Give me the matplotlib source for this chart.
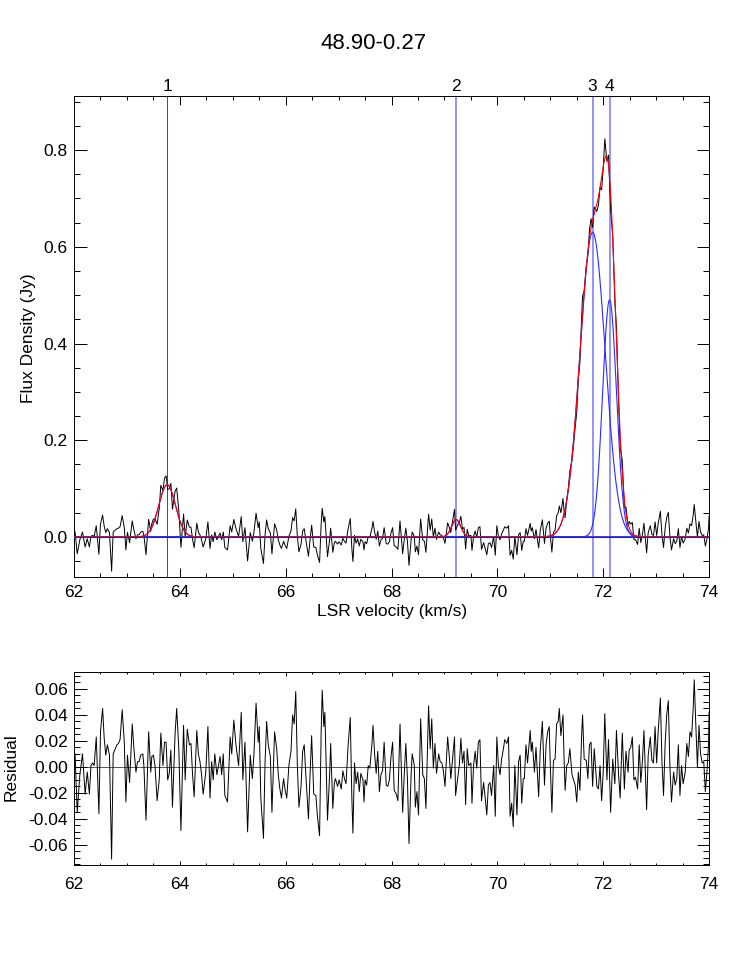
import numpy as np
import matplotlib
matplotlib.use("Agg")
import matplotlib.pyplot as plt
from matplotlib.ticker import MultipleLocator, FormatStrFormatter

plt.rcParams["font.family"] = ["Liberation Sans", "DejaVu Sans"]

# ── Datos ────────────────────────────────────────────────────────────────
SOURCE = "48.90-0.27"

# ajuste gaussiano (4 componentes)
comp_labels = ["1", "2", "3", "4"]
comp_center = [63.76, 69.22, 71.80, 72.12]   # km/s
comp_amp    = [0.108, 0.036, 0.630, 0.490]   # Jy
comp_fwhm   = [0.37, 0.20, 0.56, 0.31]       # km/s

vel = [
    # 62 - 64
    62.02, 62.06, 62.11, 62.16, 62.21, 62.25, 62.29, 62.32, 62.35, 62.38,
    62.42, 62.47, 62.50, 62.54, 62.57, 62.60, 62.63, 62.67, 62.71, 62.74,
    62.77, 62.81, 62.84, 62.87, 62.91, 62.95, 62.98, 63.01, 63.05, 63.10,
    63.13, 63.17, 63.20, 63.23, 63.26, 63.30, 63.32, 63.36, 63.41, 63.45,
    63.47, 63.50, 63.53, 63.57, 63.61, 63.64, 63.68, 63.71, 63.74, 63.77,
    63.80, 63.83, 63.86, 63.91, 63.94, 63.98, 64.02,
    # 64 - 66
    64.07, 64.10, 64.14, 64.18, 64.21, 64.24, 64.27, 64.32, 64.35, 64.38,
    64.41, 64.44, 64.49, 64.53, 64.57, 64.60, 64.63, 64.66, 64.70, 64.73,
    64.76, 64.79, 64.82, 64.85, 64.90, 64.95, 64.98, 65.02, 65.06, 65.11,
    65.16, 65.19, 65.23, 65.28, 65.33, 65.37, 65.40, 65.44, 65.48, 65.50,
    65.53, 65.58, 65.61, 65.64, 65.67, 65.71, 65.74, 65.79, 65.83, 65.86,
    65.89, 65.92, 65.96, 65.99, 66.02, 66.06,
    # 66 - 68
    66.10, 66.13, 66.16, 66.19, 66.22, 66.25, 66.29, 66.32, 66.35, 66.38,
    66.43, 66.46, 66.49, 66.53, 66.57, 66.60, 66.64, 66.67, 66.69, 66.72,
    66.74, 66.77, 66.79, 66.83, 66.85, 66.89, 66.92, 66.94, 66.98, 67.01,
    67.05, 67.08, 67.11, 67.14, 67.18, 67.22, 67.25, 67.27, 67.30, 67.33,
    67.36, 67.39, 67.42, 67.46, 67.48, 67.50, 67.53, 67.56, 67.59, 67.63,
    67.65, 67.68, 67.71, 67.74, 67.77, 67.80, 67.83, 67.86, 67.90, 67.93,
    67.96, 67.99, 68.02,
    # 68 - 70
    68.05, 68.09, 68.12, 68.16, 68.21, 68.24, 68.27, 68.30, 68.33, 68.37,
    68.39, 68.43, 68.45, 68.48, 68.51, 68.55, 68.59, 68.62, 68.65, 68.70,
    68.73, 68.76, 68.79, 68.82, 68.85, 68.89, 68.92, 68.95, 68.98, 69.01,
    69.06, 69.09, 69.12, 69.15, 69.19, 69.21, 69.25, 69.28, 69.31, 69.34,
    69.37, 69.40, 69.43, 69.46, 69.50, 69.52, 69.55, 69.58, 69.61, 69.64,
    69.67, 69.70, 69.74, 69.77, 69.80, 69.83, 69.86, 69.89, 69.93, 69.96,
    69.99, 70.02, 70.05,
    # 70 - 72
    70.08, 70.11, 70.14, 70.18, 70.21, 70.24, 70.27, 70.30, 70.33, 70.37,
    70.40, 70.43, 70.46, 70.49, 70.51, 70.54, 70.57, 70.62, 70.64, 70.66,
    70.70, 70.73, 70.78, 70.81, 70.85, 70.89, 70.92, 70.95, 70.98, 71.00,
    71.03, 71.06, 71.09, 71.12, 71.15, 71.17, 71.20, 71.24, 71.26, 71.28,
    71.31, 71.34, 71.37, 71.41, 71.44, 71.47, 71.50, 71.53, 71.56, 71.59,
    71.61, 71.64, 71.68, 71.71, 71.74, 71.77, 71.80, 71.83, 71.88, 71.91,
    71.94, 71.97, 72.00, 72.03,
    # 72 - 74
    72.07, 72.10, 72.14, 72.18, 72.22, 72.25, 72.29, 72.32, 72.36, 72.40,
    72.43, 72.47, 72.49, 72.52, 72.55, 72.58, 72.61, 72.65, 72.68, 72.71,
    72.74, 72.77, 72.82, 72.85, 72.89, 72.92, 72.95, 72.98, 73.01, 73.04,
    73.08, 73.11, 73.14, 73.17, 73.20, 73.23, 73.26, 73.29, 73.33, 73.36,
    73.39, 73.42, 73.45, 73.48, 73.51, 73.55, 73.58, 73.61, 73.64, 73.67,
    73.70, 73.72, 73.75, 73.78, 73.81, 73.84, 73.87, 73.90, 73.93, 73.96,
    73.99, 74.00,
]

resid = [
    # 62 - 64
    0.010, -0.035, -0.006, 0.010, -0.021, -0.004, -0.021, 0.001, 0.003, 0.001,
    0.023, -0.036, 0.027, 0.045, 0.022, 0.009, 0.017, 0.009, -0.071, 0.010,
    0.013, 0.017, 0.018, 0.021, 0.044, 0.019, -0.027, 0.009, -0.012, 0.033,
    0.015, -0.004, 0.004, 0.004, 0.009, 0.010, 0.001, -0.041, 0.027, -0.004,
    0.008, 0.009, 0.001, -0.026, -0.010, 0.026, 0.001, 0.019, 0.019, -0.010,
    -0.005, 0.013, -0.031, 0.026, 0.045, 0.014, -0.049,
    # 64 - 66
    0.032, -0.010, 0.029, 0.017, 0.018, -0.006, -0.023, 0.028, 0.010, 0.004,
    -0.006, -0.021, -0.004, 0.031, -0.024, 0.004, -0.010, 0.010, -0.006, 0.001,
    0.008, -0.006, 0.010, -0.022, -0.027, 0.023, 0.010, 0.036, 0.017, 0.001,
    0.042, -0.010, 0.019, -0.050, 0.009, -0.009, 0.010, 0.049, 0.019, 0.031,
    -0.024, -0.055, 0.004, 0.035, 0.017, 0.008, -0.035, 0.027, 0.014, -0.006,
    -0.017, -0.024, -0.009, -0.018, -0.024, 0.001,
    # 66 - 68
    0.012, 0.040, 0.033, 0.058, 0.001, -0.031, -0.015, 0.012, 0.017, -0.006,
    -0.040, -0.006, 0.024, -0.021, -0.022, -0.038, -0.053, 0.027, 0.059, 0.031,
    0.042, -0.006, -0.041, -0.006, 0.018, -0.032, -0.012, -0.009, -0.015, -0.010,
    -0.017, -0.003, -0.009, -0.013, 0.017, 0.038, -0.024, -0.051, 0.003, -0.013,
    -0.004, -0.019, -0.005, -0.010, -0.027, -0.010, -0.014, 0.001, -0.001, 0.018,
    0.032, 0.010, -0.005, 0.012, -0.019, -0.006, -0.003, 0.019, -0.014, -0.015,
    -0.010, 0.008, 0.019,
    # 68 - 70
    -0.018, -0.021, -0.026, 0.033, -0.035, -0.006, 0.018, -0.009, -0.059, -0.006,
    0.010, 0.001, -0.031, -0.019, -0.037, 0.037, -0.006, -0.009, -0.032, 0.047,
    0.014, 0.037, -0.001, 0.018, -0.005, 0.010, 0.004, 0.003, -0.003, -0.015,
    0.023, 0.009, -0.009, 0.005, 0.023, -0.022, -0.009, 0.001, 0.022, 0.003,
    0.012, -0.029, 0.014, 0.001, 0.003, -0.028, 0.001, 0.012, -0.001, 0.019,
    0.021, -0.026, -0.012, -0.024, -0.037, -0.014, -0.012, -0.022, 0.001, -0.038,
    0.023, 0.001, -0.006,
    # 70 - 72
    0.006, 0.013, 0.021, 0.018, 0.023, -0.038, -0.028, -0.046, 0.001, -0.037,
    0.004, 0.009, -0.028, -0.009, -0.009, 0.017, 0.003, 0.028, 0.012, 0.019,
    -0.004, 0.015, -0.023, 0.013, 0.035, -0.014, 0.017, 0.027, 0.031, 0.001,
    -0.035, 0.005, 0.006, 0.033, 0.035, 0.045, 0.024, 0.040, 0.006, -0.018,
    0.001, 0.003, 0.014, -0.006, -0.010, -0.014, -0.027, -0.004, -0.018, 0.022,
    0.040, 0.006, 0.005, -0.009, 0.017, 0.019, -0.015, 0.014, -0.015, -0.017,
    0.001, -0.026, -0.004, 0.041,
    # 72 - 74
    -0.010, 0.021, -0.035, 0.006, -0.013, 0.028, -0.006, -0.024, 0.026, -0.017,
    0.012, -0.004, 0.013, 0.015, 0.023, -0.010, -0.008, -0.017, 0.017, -0.012,
    0.004, 0.028, -0.033, 0.009, 0.023, 0.005, 0.003, 0.031, 0.003, 0.028,
    0.053, 0.004, -0.022, 0.018, 0.040, 0.051, 0.001, -0.027, -0.004, -0.014,
    -0.009, 0.017, -0.022, 0.001, -0.013, -0.004, 0.018, 0.008, 0.027, 0.023,
    0.045, 0.067, 0.032, 0.000, 0.032, 0.010, 0.003, 0.004, -0.019, -0.004,
    0.017, 0.042,
]

VMIN, VMAX = 62.0, 74.0


def gauss(v, a, c, fwhm):
    s = fwhm / 2.3548
    return a * np.exp(-0.5 * ((v - c) / s) ** 2)


vel = np.array(vel)
resid = np.array(resid)
vgrid = np.linspace(VMIN, VMAX, 1500)

comps = [gauss(vgrid, a, c, w) for a, c, w in zip(comp_amp, comp_center, comp_fwhm)]
model = np.sum(comps, axis=0)
model_at_vel = np.sum([gauss(vel, a, c, w)
                       for a, c, w in zip(comp_amp, comp_center, comp_fwhm)], axis=0)
spec = model_at_vel + resid

# ── Figura ───────────────────────────────────────────────────────────────
fig = plt.figure(figsize=(7.47, 9.61), dpi=100)
ax1 = fig.add_axes([0.0991, 0.3996, 0.8501, 0.5005])
ax2 = fig.add_axes([0.0991, 0.0999, 0.8501, 0.2008])

fig.text(0.5, 0.949, SOURCE, ha="center", va="baseline", fontsize=16)

# panel superior: espectro + ajuste
for i, c in enumerate(comp_center):
    if i == 0:
        ax1.axvline(c, color="#3c3cff", lw=0.75, zorder=1)
    else:
        ax1.axvline(c, color="#8a8aff", lw=1.3, zorder=1)
    ax1.annotate(comp_labels[i], xy=(c, 1.0), xycoords=("data", "axes fraction"),
                 xytext=(0, 3.6), textcoords="offset points",
                 ha="center", va="baseline", fontsize=12.5)

ax1.plot(vel, spec, color="black", lw=0.7, zorder=2)
for g in comps:
    ax1.plot(vgrid, g, color="#2a2aff", lw=0.8, zorder=3)
ax1.plot(vgrid, model, color="red", lw=0.8, zorder=4)
ax1.axhline(0, color="#2a2a78", lw=0.8, zorder=5)

ax1.set_xlim(VMIN, VMAX)
ax1.set_ylim(-0.083, 0.912)
ax1.xaxis.set_major_locator(MultipleLocator(2))
ax1.xaxis.set_minor_locator(MultipleLocator(0.5))
ax1.yaxis.set_major_locator(MultipleLocator(0.2))
ax1.yaxis.set_minor_locator(MultipleLocator(0.05))
ax1.yaxis.set_major_formatter(FormatStrFormatter("%.1f"))
ax1.tick_params(which="both", direction="in", top=True, right=True,
                width=0.7, labelsize=12.5)
ax1.tick_params(axis="x", which="major", length=6.5, pad=6)
ax1.tick_params(axis="x", which="minor", length=3.2)
ax1.tick_params(axis="y", which="major", length=9, pad=4.5)
ax1.tick_params(axis="y", which="minor", length=4.5)

fig.text(392 / 747, 1 - 616 / 961, "LSR velocity (km/s)",
         ha="center", va="baseline", fontsize=12.5)
fig.text(28 / 747, 1 - 338 / 961, "Flux Density (Jy)", rotation=90,
         ha="center", va="center", fontsize=12.5)

# panel inferior: residuo
ax2.axhline(0, color="#555555", lw=0.7, zorder=1)
ax2.plot(vel, resid, color="black", lw=0.7, zorder=2)
ax2.set_xlim(VMIN, VMAX)
ax2.set_ylim(-0.0755, 0.073)
ax2.xaxis.set_major_locator(MultipleLocator(2))
ax2.xaxis.set_minor_locator(MultipleLocator(0.5))
ax2.yaxis.set_major_locator(MultipleLocator(0.02))
ax2.yaxis.set_minor_locator(MultipleLocator(0.005))
ax2.yaxis.set_major_formatter(FormatStrFormatter("%.2f"))
ax2.tick_params(which="both", direction="in", top=True, right=True,
                width=0.7, labelsize=12.5)
ax2.tick_params(axis="x", which="major", length=2.8, pad=9)
ax2.tick_params(axis="x", which="minor", length=1.4)
ax2.tick_params(axis="y", which="major", length=9, pad=4.5)
ax2.tick_params(axis="y", which="minor", length=4.5)

fig.text(11 / 747, 1 - 767 / 961, "Residual", rotation=90,
         ha="center", va="center", fontsize=12.5)

for ax in (ax1, ax2):
    for sp in ax.spines.values():
        sp.set_linewidth(0.7)

fig.savefig("out.png", dpi=100)
